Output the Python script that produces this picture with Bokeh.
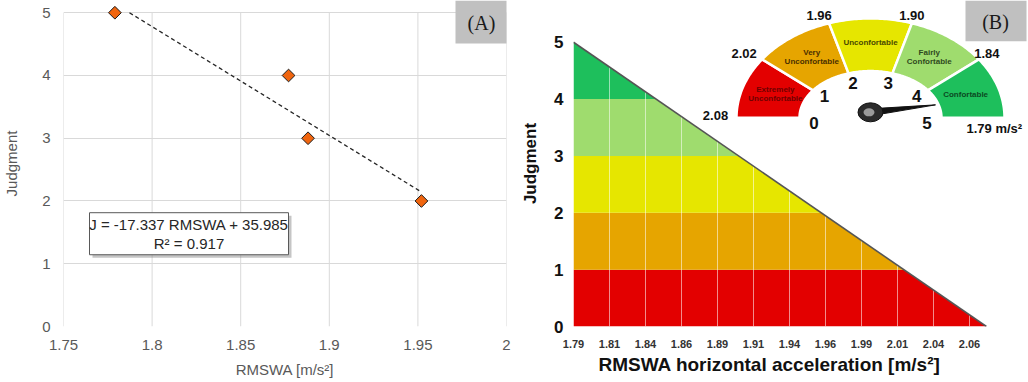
import numpy as np
from bokeh.plotting import figure
from bokeh.layouts import row
from bokeh.models import FixedTicker, Range1d, Title
from bokeh.core.properties import value
from bokeh.embed import file_html
from bokeh.resources import INLINE

# ---------------- data : panel (A) ----------------
rmswa = [1.779, 1.877, 1.888, 1.952]
judgment = [5, 4, 3, 2]
fit_slope = -17.337
fit_intercept = 35.985
fit_r2 = 0.917
a_xticks = [1.75, 1.8, 1.85, 1.9, 1.95, 2]
a_xtick_labels = ["1.75", "1.8", "1.85", "1.9", "1.95", "2"]
a_yticks = [0, 1, 2, 3, 4, 5]

# ---------------- data : panel (B) ----------------
b_xtick_labels = ["1.79", "1.81", "1.84", "1.86", "1.89", "1.91",
                  "1.94", "1.96", "1.99", "2.01", "2.04", "2.06"]
b_tick_start = 1.79
b_tick_step = 0.0245
b_yticks = [0, 1, 2, 3, 4, 5]
hyp_x = [1.79, 2.071]      # judgment 5 -> 0 boundary line
hyp_y = [5, 0]
comfort_levels = ["Extremely\nUnconfortable", "Very\nUnconfortable",
                  "Unconfortable", "Fairly\nConfortable", "Confortable"]
band_colors = ["#e30000", "#e6a500", "#e6e600", "#9fdc6e", "#1ebf5c"]
gauge_thresholds = ["2.08", "2.02", "1.96", "1.90", "1.84", "1.79 m/s\u00b2"]
gauge_numbers = ["0", "1", "2", "3", "4", "5"]

FONT = "Liberation Sans"

# ================= panel A =================
pA = figure(width=515, height=382, x_range=Range1d(1.75, 2.0), y_range=Range1d(0, 5.195),
            output_backend="svg", toolbar_location=None,
            min_border_left=63, min_border_right=9, min_border_top=0, min_border_bottom=56)
pA.outline_line_color = None
pA.background_fill_color = "white"
pA.xgrid.visible = False
pA.ygrid.ticker = FixedTicker(ticks=a_yticks)
pA.ygrid.grid_line_color = "#d9d9d9"
pA.xaxis.ticker = FixedTicker(ticks=a_xticks)
pA.xaxis.major_label_overrides = {t: l for t, l in zip(a_xticks, a_xtick_labels)}
pA.yaxis.ticker = FixedTicker(ticks=a_yticks)
for ax in (pA.xaxis[0], pA.yaxis[0]):
    ax.axis_line_color = None
    ax.major_tick_line_color = None
    ax.minor_tick_line_color = None
    ax.major_tick_out = 0
    ax.major_tick_in = 0
    ax.minor_tick_out = 0
    ax.major_label_text_font = FONT
    ax.major_label_text_font_size = "15px"
    ax.major_label_text_color = "#595959"
    ax.axis_label_text_font = FONT
    ax.axis_label_text_font_size = "15px"
    ax.axis_label_text_font_style = "normal"
    ax.axis_label_text_color = "#595959"
pA.xaxis.axis_label = "RMSWA [m/s\u00b2]"
pA.yaxis.axis_label = "Judgment"
pA.xaxis.major_label_standoff = 13
pA.yaxis.major_label_standoff = 13
pA.xaxis.axis_label_standoff = 8
pA.yaxis.axis_label_standoff = 19

# vertical grid lines (stop at judgment 5)
pA.segment(x0=a_xticks, y0=[min(a_yticks)] * len(a_xticks), x1=a_xticks,
           y1=[max(a_yticks)] * len(a_xticks), line_color="#d9d9d9", line_width=1)

def ax_(px):
    return 1.75 + (px - 63.0) / 1772.0

def ay_(py):
    return (325.7 - py) / 62.7

# trend line
x_start = (fit_intercept - max(judgment)) / (-fit_slope)
x_end = max(rmswa)
tx = [x_start, x_end]
ty = [fit_slope * v + fit_intercept for v in tx]
pA.line(tx, ty, line_color="#262626", line_width=1.3, line_dash="4 3")

pA.scatter(rmswa, judgment, marker="square", angle=np.pi / 4, size=9,
           fill_color="#f0650f", line_color="#1a1a1a", line_width=1)

# equation box
pA.quad(left=[ax_(92)], right=[ax_(291)], top=[ay_(215)], bottom=[ay_(257)],
        fill_color="#7f7f7f", fill_alpha=0.45, line_color=None)
pA.quad(left=[ax_(89)], right=[ax_(288)], top=[ay_(212)], bottom=[ay_(254)],
        fill_color="white", line_color="#595959", line_width=1)
pA.text(x=[ax_(188.5)] * 2, y=[ay_(224), ay_(243)],
        text=[f"J = {fit_slope} RMSWA + {fit_intercept}", f"R\u00b2 = {fit_r2}"],
        text_font=value(FONT), text_font_size="15px", text_color="#262626",
        text_align="center", text_baseline="middle")

# (A) tag
pA.quad(left=[ax_(455)], right=[ax_(507)], top=[ay_(0)], bottom=[ay_(43)],
        fill_color="#c0c0c0", line_color=None)
pA.text(x=[ax_(481)], y=[ay_(22)], text=["(A)"], text_font=value("Liberation Serif"),
        text_font_size="20px", text_color="#1a1a1a", text_align="center", text_baseline="middle")

# ================= panel B =================
b_xticks = [b_tick_start + i * b_tick_step for i in range(len(b_xtick_labels))]

def bx(px):
    return b_tick_start + (px - 573.0) * b_tick_step / 36.0

def by(py):
    return (328.0 - py) / 57.2

pB = figure(width=513, height=382, x_range=Range1d(b_tick_start, bx(1028)), y_range=Range1d(0, by(0)),
            output_backend="svg", toolbar_location=None,
            min_border_left=58, min_border_right=0, min_border_top=0, min_border_bottom=54)
pB.outline_line_color = None
pB.xgrid.visible = False
pB.ygrid.visible = False
pB.xaxis.ticker = FixedTicker(ticks=b_xticks)
pB.xaxis.major_label_overrides = {t: l for t, l in zip(b_xticks, b_xtick_labels)}
pB.yaxis.ticker = FixedTicker(ticks=b_yticks)
for axm in (pB.xaxis[0], pB.yaxis[0]):
    axm.axis_line_color = None
    axm.major_tick_line_color = None
    axm.minor_tick_line_color = None
    axm.major_tick_out = 0
    axm.major_tick_in = 0
    axm.minor_tick_out = 0
    axm.major_label_text_font = FONT
    axm.major_label_text_font_style = "bold"
    axm.axis_label_text_font = FONT
    axm.axis_label_text_font_style = "bold"
    axm.axis_label_text_color = "#111111"
pB.xaxis.major_label_text_font_size = "11px"
pB.xaxis.major_label_text_color = "#333333"
pB.yaxis.major_label_text_font_size = "17px"
pB.yaxis.major_label_text_color = "#111111"
pB.yaxis.axis_label = "Judgment"
pB.yaxis.axis_label_text_font_size = "17px"
pB.xaxis.major_label_standoff = 13
pB.yaxis.major_label_standoff = 10
pB.yaxis.axis_label_standoff = 11
pB.add_layout(Title(text="RMSWA horizontal acceleration [m/s\u00b2]", align="left", offset=25,
                    text_font=FONT, text_font_size="19px", text_font_style="bold",
                    text_color="#111111", standoff=3), "below")

def hyp_at(j):
    return hyp_x[1] + (hyp_x[0] - hyp_x[1]) * (j - hyp_y[1]) / (hyp_y[0] - hyp_y[1])

def j_at(x):
    return hyp_y[1] + (hyp_y[0] - hyp_y[1]) * (x - hyp_x[1]) / (hyp_x[0] - hyp_x[1])

bxs, bys = [], []
for j in range(len(band_colors)):
    bxs.append([hyp_x[0], hyp_at(j), hyp_at(j + 1), hyp_x[0]])
    bys.append([j, j, j + 1, j + 1])
pB.patches(bxs, bys, fill_color=band_colors, line_color=None)

gx = b_xticks[1:]
pB.segment(x0=gx, y0=[0] * len(gx), x1=gx, y1=[j_at(v) for v in gx],
           line_color="white", line_alpha=0.55, line_width=1)
pB.line(hyp_x, hyp_y, line_color="#555555", line_width=1.6)

# ---- gauge ----
gcx, gcy = 870.0, 118.0
rxo, ryo, rxi, ryi = 134.0, 100.0, 71.0, 47.0
n = len(comfort_levels)
gxs, gys = [], []
for k in range(n):
    t = np.linspace(np.pi - k * np.pi / n, np.pi - (k + 1) * np.pi / n, 40)
    xo = gcx + rxo * np.cos(t); yo = gcy - ryo * np.sin(t)
    xi = (gcx + rxi * np.cos(t))[::-1]; yi = (gcy - ryi * np.sin(t))[::-1]
    gxs.append([bx(v) for v in np.concatenate([xo, xi])])
    gys.append([by(v) for v in np.concatenate([yo, yi])])
pB.patches(gxs, gys, fill_color=band_colors, line_color="white", line_width=2.5)

mid = [np.pi - (k + 0.5) * np.pi / n for k in range(n)]
lab_colors = ["#700000", "#4a3000", "#4a4a00", "#2f4a20", "#0b4a22"]
pB.text(x=[bx(gcx + 100 * np.cos(a)) for a in mid], y=[by(gcy - 76 * np.sin(a)) for a in mid],
        text=comfort_levels, text_font=value(FONT), text_font_style="bold", text_font_size="8px",
        text_color=lab_colors, text_align="center", text_baseline="middle", text_line_height=1.0)

num_ang = np.radians([188, 144, 108, 72, 36, -8])
pB.text(x=[bx(gcx + 57 * np.cos(a)) for a in num_ang], y=[by(gcy - 37 * np.sin(a)) for a in num_ang],
        text=gauge_numbers, text_font=value(FONT), text_font_style="bold", text_font_size="17px",
        text_color="#111111", text_align="center", text_baseline="middle")

thr_ang = np.radians([180, 144, 108, 72, 36])
pB.text(x=[bx(gcx - 5 + 150 * np.cos(a)) for a in thr_ang], y=[by(gcy - 2 - 106 * np.sin(a)) for a in thr_ang],
        text=gauge_thresholds[:5], text_font=value(FONT), text_font_style="bold", text_font_size="13px",
        text_color="#111111", text_align="center", text_baseline="middle")
pB.text(x=[bx(966)], y=[by(129)], text=gauge_thresholds[5:], text_font=value(FONT),
        text_font_style="bold", text_font_size="13px", text_color="#111111",
        text_align="left", text_baseline="middle")

# needle
hx, hy, tipx, tipy = 870.0, 112.5, 935.0, 105.0
ang = np.arctan2(tipy - hy, tipx - hx)
px_, py_ = -np.sin(ang) * 3.5, np.cos(ang) * 3.5
pB.patch([bx(tipx), bx(hx + px_), bx(hx - px_)], [by(tipy), by(hy + py_), by(hy - py_)],
         fill_color="#111111", line_color="#111111", line_width=1)
pB.ellipse(x=[bx(hx)], y=[by(hy)], width=25, height=19, width_units="screen", height_units="screen",
           fill_color="#2b2b2b", line_color="#111111")
pB.ellipse(x=[bx(hx - 1.5)], y=[by(hy)], width=11, height=8, width_units="screen", height_units="screen",
           fill_color="#9a9a9a", line_color=None)

# (B) tag
pB.quad(left=[bx(965)], right=[bx(1026)], top=[by(0)], bottom=[by(41)],
        fill_color="#c0c0c0", line_color=None)
pB.text(x=[bx(995)], y=[by(22)], text=["(B)"], text_font=value("Liberation Serif"),
        text_font_size="20px", text_color="#1a1a1a", text_align="center", text_baseline="middle")

layout = row(pA, pB)
open("out.html", "w").write(file_html(layout, INLINE))
